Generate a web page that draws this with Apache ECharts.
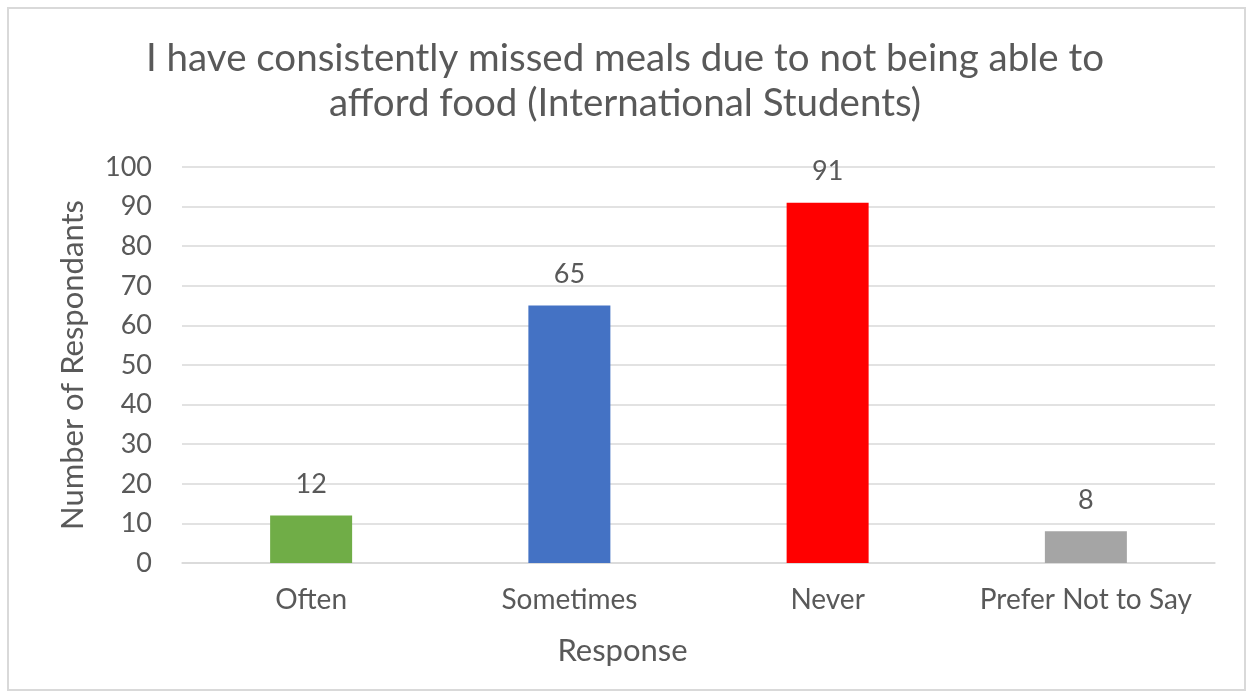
<!DOCTYPE html>
<html>
<head>
<meta charset="utf-8">
<script src="https://cdn.jsdelivr.net/npm/echarts@6/dist/echarts.min.js"></script>
<style>
  html, body { margin: 0; padding: 0; background: #fff; }
  #chart { width: 1250px; height: 698px; }
</style>
</head>
<body>
<div id="chart"></div>
<script>
// Survey responses
const categories = ['Often', 'Sometimes', 'Never', 'Prefer Not to Say'];
const respondents = [12, 65, 91, 8];
const barColors = ['#70ad47', '#4472c4', '#ff0000', '#a5a5a5'];
const titleLines = ['I have consistently missed meals due to not being able to', 'afford food (International Students)'];

const FONT = 'Lato, "Open Sans", sans-serif';
const TEXT = '#595959';

const chart = echarts.init(document.getElementById('chart'), null, { renderer: 'canvas' });
chart.setOption({
  backgroundColor: '#ffffff',
  animation: false,
  title: {
    text: titleLines.join('\n'),
    left: 'center',
    top: 31,
    textStyle: { fontFamily: FONT, fontSize: 38.5, fontWeight: 'normal', color: TEXT, lineHeight: 45 }
  },
  graphic: [{
    type: 'rect',
    shape: { x: 8, y: 8, width: 1237, height: 682 },
    style: { fill: 'none', stroke: '#d9d9d9', lineWidth: 2 },
    silent: true
  }],
  grid: { left: 182, right: 35, top: 167, bottom: 135, containLabel: false },
  xAxis: {
    type: 'category',
    data: categories,
    name: 'Response',
    nameLocation: 'middle',
    nameGap: 72,
    nameTextStyle: { fontFamily: FONT, fontSize: 31, color: TEXT, padding: [0, 152, 0, 0] },
    axisLine: { show: true, lineStyle: { color: '#d9d9d9', width: 1.5 } },
    axisTick: { show: false },
    axisLabel: { fontFamily: FONT, fontSize: 28, color: TEXT, margin: 23, interval: 0 }
  },
  yAxis: {
    type: 'value',
    min: 0,
    max: 100,
    interval: 10,
    name: 'Number of Respondants',
    nameLocation: 'middle',
    nameGap: 94,
    nameRotate: 90,
    nameTextStyle: { fontFamily: FONT, fontSize: 31, color: TEXT },
    axisLine: { show: false },
    axisTick: { show: false },
    axisLabel: { fontFamily: FONT, fontSize: 27, color: TEXT, margin: 30 },
    splitLine: { lineStyle: { color: '#d9d9d9', width: 1.5 } }
  },
  series: [{
    type: 'bar',
    data: respondents.map((v, i) => ({ value: v, itemStyle: { color: barColors[i] } })),
    barWidth: 82,
    label: {
      show: true,
      position: 'top',
      distance: 18,
      fontFamily: FONT,
      fontSize: 27,
      color: TEXT
    }
  }]
});
</script>
</body>
</html>
